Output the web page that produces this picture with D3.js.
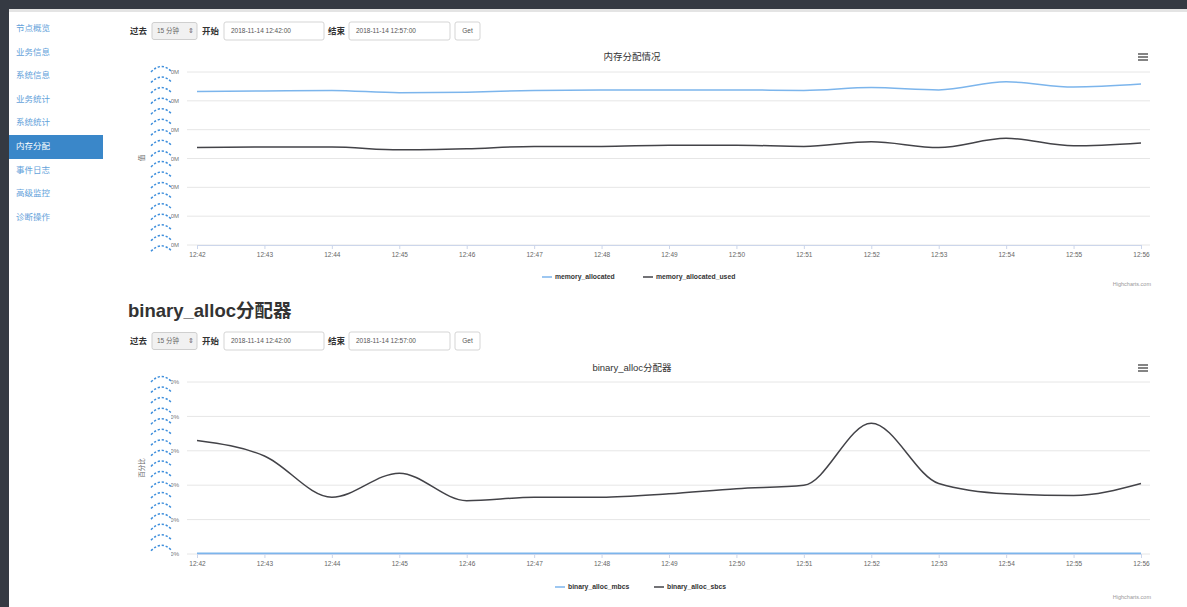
<!DOCTYPE html>
<html>
<head>
<meta charset="utf-8">
<script src="https://cdn.jsdelivr.net/npm/d3@7"></script>
<style>
  html, body { margin: 0; padding: 0; background: #fff; }
  svg { display: block; font-family: "Liberation Sans", Arial, "Noto Sans CJK SC", sans-serif; }
</style>
</head>
<body>
<svg id="root" width="1187" height="607"></svg>
<script>
// ---------- data ----------
const times = ["12:42","12:43","12:44","12:45","12:46","12:47","12:48","12:49","12:50","12:51","12:52","12:53","12:54","12:55","12:56"];
const memAllocated     = [266, 267, 268, 264, 265, 268, 269, 269, 269, 268, 273, 269, 283, 274, 279];
const memAllocatedUsed = [169, 170, 170, 165, 167, 171, 171, 173, 173, 171, 179, 169, 185, 172, 177];
const memTicks = [0, 50, 100, 150, 200, 250, 300];
const binMbcs = [0.4, 0.4, 0.4, 0.4, 0.4, 0.4, 0.4, 0.4, 0.4, 0.4, 0.4, 0.4, 0.4, 0.4, 0.4];
const binSbcs = [66, 57, 33, 47, 31, 33, 33, 35, 38, 40, 76, 41, 35, 34, 41];
const binTicks = [0, 20, 40, 60, 80, 100];
const menuItems = ["节点概览","业务信息","系统信息","业务统计","系统统计","内存分配","事件日志","高级监控","诊断操作"];
const activeMenu = "内存分配";

const svg = d3.select("#root");

// ---------- frame ----------
svg.append("rect").attr("x",0).attr("y",0).attr("width",1187).attr("height",607).attr("fill","#fff");
svg.append("rect").attr("x",0).attr("y",0).attr("width",1187).attr("height",9).attr("fill","#353a43");
svg.append("rect").attr("x",0).attr("y",0).attr("width",9).attr("height",607).attr("fill","#353a43");
svg.append("rect").attr("x",9).attr("y",9).attr("width",1178).attr("height",3).attr("fill","#e4e4e4");

// ---------- sidebar ----------
const menuY = d3.scalePoint().domain(menuItems).range([28, 217]);
svg.append("rect").attr("x",9).attr("y",135).attr("width",94).attr("height",24).attr("fill","#3a87c9");
svg.append("g").selectAll("text").data(menuItems).join("text")
  .attr("x",16).attr("y",d => menuY(d)).attr("dy","0.35em")
  .attr("font-size",8.5)
  .attr("fill",d => d === activeMenu ? "#ffffff" : "#64a2da")
  .text(d => d);

// ---------- filter row ----------
function filterRow(cy) {
  const g = svg.append("g");
  const lab = (x, t) => g.append("text").attr("x",x).attr("y",cy).attr("dy","0.35em")
      .attr("font-size",8.5).attr("font-weight","bold").attr("fill","#333").text(t);
  lab(130, "过去");
  g.append("rect").attr("x",152).attr("y",cy-8.5).attr("width",45).attr("height",17).attr("rx",2)
    .attr("fill","#f1f1f1").attr("stroke","#cfcfcf");
  g.append("text").attr("x",157).attr("y",cy).attr("dy","0.35em").attr("font-size",6.5).attr("fill","#666").text("15 分钟");
  g.append("text").attr("x",188).attr("y",cy).attr("dy","0.35em").attr("font-size",6.5).attr("fill","#666").text("⇕");
  lab(202, "开始");
  g.append("rect").attr("x",224).attr("y",cy-9).attr("width",100).attr("height",18).attr("rx",2)
    .attr("fill","#fff").attr("stroke","#d5d5d5");
  g.append("text").attr("x",231).attr("y",cy).attr("dy","0.35em").attr("font-size",6.5).attr("fill","#555").text("2018-11-14 12:42:00");
  lab(328, "结束");
  g.append("rect").attr("x",349).attr("y",cy-9).attr("width",101).attr("height",18).attr("rx",2)
    .attr("fill","#fff").attr("stroke","#d5d5d5");
  g.append("text").attr("x",356).attr("y",cy).attr("dy","0.35em").attr("font-size",6.5).attr("fill","#555").text("2018-11-14 12:57:00");
  g.append("rect").attr("x",455).attr("y",cy-9).attr("width",25).attr("height",18).attr("rx",2)
    .attr("fill","#fff").attr("stroke","#d5d5d5");
  g.append("text").attr("x",467.5).attr("y",cy).attr("dy","0.35em").attr("text-anchor","middle").attr("font-size",6.5).attr("fill","#555").text("Get");
}
filterRow(31);
filterRow(341);

svg.append("text").attr("x",128).attr("y",317).attr("font-size",18.5).attr("font-weight","bold")
  .attr("fill","#333").text("binary_alloc分配器");

// ---------- chart builder ----------
const x = d3.scalePoint().domain(times).range([197, 1141]);

function chart(opt) {
  const g = svg.append("g");
  const y = d3.scaleLinear().domain(opt.domain).range([opt.bottom, opt.top]);

  // title & menu
  g.append("text").attr("x",632).attr("y",opt.titleY).attr("dy","0.35em").attr("text-anchor","middle")
    .attr("font-size",9.5).attr("fill","#333").text(opt.title);
  [-3, 0, 3].forEach(o => g.append("rect").attr("x",1138).attr("y",opt.titleY + o - 0.8)
    .attr("width",10).attr("height",1.6).attr("fill","#666"));

  // grid
  g.append("g").selectAll("line").data(opt.ticks).join("line")
    .attr("x1",187).attr("x2",1150).attr("y1",d => y(d)).attr("y2",d => y(d))
    .attr("stroke","#e6e6e6").attr("stroke-width",1);

  // y labels
  g.append("g").selectAll("text").data(opt.ticks).join("text")
    .attr("x",179).attr("y",d => y(d)).attr("dy","0.35em").attr("text-anchor","end")
    .attr("font-size",6).attr("fill","#777").text(opt.fmt);
  g.append("rect").attr("x",148).attr("y",opt.top - 8).attr("width",23).attr("height",opt.bottom - opt.top + 14).attr("fill","#fff");
  // dashed arcs column
  const arcYs = d3.range(opt.arcStart, opt.bottom + 1, 10.55);
  g.append("g").selectAll("path").data(arcYs).join("path")
    .attr("d", d => `M151,${d+6} Q161.5,${d-5} 172,${d+6}`)
    .attr("fill","none").attr("stroke","#3f8fdc").attr("stroke-width",1.5).attr("stroke-dasharray","2.3,1.8");

  // y axis title
  g.append("text").attr("transform",`translate(142,${opt.yTitleY}) rotate(-90)`).attr("text-anchor","middle")
    .attr("dy","0.35em").attr("font-size",6.5).attr("fill","#666").text(opt.yTitle);

  // x axis
  const xa = g.append("g").attr("transform",`translate(0,${opt.bottom})`)
    .call(d3.axisBottom(x).tickSize(4).tickPadding(3));
  xa.select(".domain").attr("stroke","#ccd6eb");
  xa.selectAll(".tick line").attr("stroke","#ccd6eb");
  xa.selectAll(".tick text").attr("font-size",6.5).attr("fill","#666")
    .attr("font-family","\"Liberation Sans\", Arial, sans-serif");

  // series
  const line = d3.line().x((d,i) => x(times[i])).y(d => y(d)).curve(d3.curveMonotoneX);
  opt.series.forEach(s => {
    g.append("path").datum(s.values).attr("d", line).attr("fill","none")
      .attr("stroke", s.color).attr("stroke-width", 1.5).attr("stroke-linejoin","round");
  });

  // legend
  opt.series.forEach(s => {
    g.append("line").attr("x1",s.lx).attr("x2",s.lx+10).attr("y1",opt.legendY).attr("y2",opt.legendY)
      .attr("stroke",s.color).attr("stroke-width",1.5);
    g.append("text").attr("x",s.lx+13).attr("y",opt.legendY).attr("dy","0.35em")
      .attr("font-size",6.8).attr("font-weight","bold").attr("fill","#333").text(s.name);
  });

  // credits
  g.append("text").attr("x",1151).attr("y",opt.creditY).attr("dy","0.35em").attr("text-anchor","end")
    .attr("font-size",5.5).attr("fill","#999").text("Highcharts.com");
}

chart({
  title: "内存分配情况", titleY: 57,
  domain: [0, 300], ticks: memTicks, fmt: d => d + "M",
  top: 72, bottom: 245, arcStart: 66,
  yTitle: "值", yTitleY: 158,
  legendY: 277, creditY: 284,
  series: [
    { name: "memory_allocated", values: memAllocated, color: "#7cb5ec", lx: 542 },
    { name: "memory_allocated_used", values: memAllocatedUsed, color: "#434348", lx: 643 }
  ]
});

chart({
  title: "binary_alloc分配器", titleY: 368,
  domain: [0, 100], ticks: binTicks, fmt: d => d + "%",
  top: 382, bottom: 554, arcStart: 376,
  yTitle: "百分比", yTitleY: 468,
  legendY: 587, creditY: 597,
  series: [
    { name: "binary_alloc_mbcs", values: binMbcs, color: "#7cb5ec", lx: 555 },
    { name: "binary_alloc_sbcs", values: binSbcs, color: "#434348", lx: 654 }
  ]
});
</script>
</body>
</html>
